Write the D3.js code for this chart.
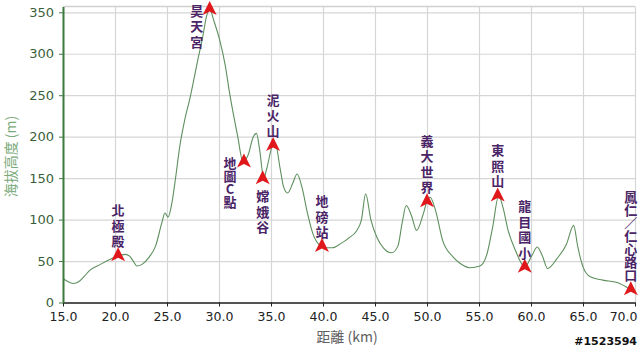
<!DOCTYPE html>
<html>
<head>
<meta charset="utf-8">
<script src="https://cdn.jsdelivr.net/npm/d3@7"></script>
<style>
  body { margin: 0; background: #fff; }
  svg { display: block; }
  .vlabel { writing-mode: vertical-rl; text-orientation: upright; }
</style>
</head>
<body>
<div id="chart"></div>
<script>
// Elevation profile (distance in km, elevation in m)
var distKm = [15.0, 15.5, 16.0, 16.5, 17.0, 17.6, 18.6, 19.5, 20.2, 21.0, 21.4, 21.8, 22.1, 22.6, 23.3, 23.9,
  24.5, 24.8, 25.1, 25.5, 25.8, 26.25, 26.7, 27.2, 27.6, 28.0, 28.4, 28.8, 29.1, 29.5, 30.1, 30.6, 31.0,
  31.4, 31.8, 32.3, 32.8, 33.3, 33.6, 33.9, 34.3, 34.6, 35.1, 35.4, 35.9, 36.2, 36.6, 37.1, 37.5, 38.0,
  38.5, 39.0, 39.7, 40.3, 40.9, 41.7, 42.5, 43.2, 43.7, 44.1, 44.6, 45.2, 45.8, 46.6, 47.2, 47.6, 48.0,
  48.5, 49.0, 49.6, 50.0, 50.3, 50.8, 51.5, 52.5, 53.2, 54.1, 55.1, 55.8, 56.3, 56.9, 57.3, 57.8, 58.5,
  59.4, 60.1, 60.6, 61.1, 61.6, 62.5, 63.4, 64.1, 64.5, 65.0, 65.7, 66.9, 68.3, 69.5];
var elevM = [29, 25, 23, 25, 31, 39, 46, 52, 56, 58, 56, 49, 44, 46, 55, 68,
  96, 108, 103, 122, 148, 190, 220, 246, 270, 295, 318, 345, 354, 340, 315, 286, 254,
  226, 200, 170, 178, 200, 204, 185, 150, 162, 188, 192, 160, 140, 132, 144, 155, 138,
  108, 84, 69, 66, 66, 71, 78, 86, 100, 131, 100, 78, 66, 60, 68, 95, 117,
  105, 87, 105, 122, 127, 112, 75, 55, 47, 42, 44, 60, 90, 129, 115, 87, 63,
  43, 57, 67, 56, 41, 53, 70, 93, 67, 43, 31, 27, 24, 16];

// Waypoints
var wpNames = ["北極殿", "昊天宮", "地圖C點", "嫦娥谷", "泥火山", "地磅站", "義大世界", "東照山", "龍目國小", "鳳仁／仁心路口"];
var wpKm = [20.3, 29.1, 32.4, 34.2, 35.2, 39.9, 50.0, 56.8, 59.4, 69.6];
var wpElev = [57, 354, 170, 150, 190, 68, 122, 129, 43, 16];

var xTicks = [15, 20, 25, 30, 35, 40, 45, 50, 55, 60, 65, 70];
var yTicks = [0, 50, 100, 150, 200, 250, 300, 350];

var svgWidth = 640;
var svgHeight = 347;
var margin = { top: 6.5, right: 5, bottom: 44.5, left: 63 };
var chartWidth = svgWidth - margin.left - margin.right;
var chartHeight = svgHeight - margin.top - margin.bottom;

var svg = d3.select("#chart")
  .append("svg")
  .attr("width", svgWidth)
  .attr("height", svgHeight);

var chartGroup = svg.append("g")
  .attr("transform", `translate(${margin.left}, ${margin.top})`);

var xScale = d3.scaleLinear().domain([15, 70]).range([0, chartWidth]);
var yScale = d3.scaleLinear().domain([0, 357]).range([chartHeight, 0]);

// grid
chartGroup.append("g")
  .attr("transform", `translate(0, ${chartHeight})`)
  .call(d3.axisBottom(xScale).tickValues(xTicks).tickSize(-chartHeight).tickFormat(""))
  .call(g => g.select(".domain").remove())
  .selectAll("line").attr("stroke", "#d6d6d6").attr("stroke-width", 1.2);

chartGroup.append("g")
  .call(d3.axisLeft(yScale).tickValues(yTicks).tickSize(-chartWidth).tickFormat(""))
  .call(g => g.select(".domain").remove())
  .selectAll("line").attr("stroke", "#d6d6d6").attr("stroke-width", 1.2);

chartGroup.append("line")
  .attr("x1", 0).attr("x2", chartWidth).attr("y1", 0).attr("y2", 0)
  .attr("stroke", "#d0d0d0").attr("stroke-width", 1.5);

// profile line
var profile = distKm.map((d, i) => [d, elevM[i]]);
var drawLine = d3.line()
  .x(d => xScale(d[0]))
  .y(d => yScale(d[1]))
  .curve(d3.curveMonotoneX);

chartGroup.append("path")
  .attr("d", drawLine(profile))
  .attr("fill", "none")
  .attr("stroke", "#5e8f5e")
  .attr("stroke-width", 1.1);

// axes
var bottomAxis = chartGroup.append("g")
  .attr("transform", `translate(0, ${chartHeight})`)
  .call(d3.axisBottom(xScale).tickValues(xTicks).tickSize(4).tickSizeOuter(0).tickFormat(d3.format(".1f")));
bottomAxis.select(".domain").attr("stroke", "#222").attr("stroke-width", 1.6);
bottomAxis.selectAll(".tick line").attr("stroke", "#222");
bottomAxis.selectAll("text")
  .attr("font-family", "DejaVu Sans, Verdana, sans-serif")
  .attr("font-size", "12.5px")
  .attr("fill", "#222")
  .attr("dy", "0.9em");
bottomAxis.selectAll(".tick").filter(d => d === 70).select("text")
  .attr("text-anchor", "end").attr("dx", "2");

var leftAxis = chartGroup.append("g")
  .call(d3.axisLeft(yScale).tickValues(yTicks).tickSize(4).tickSizeOuter(0));
leftAxis.select(".domain").attr("stroke", "#3d7a3d").attr("stroke-width", 2);
leftAxis.selectAll(".tick line").attr("stroke", "#3d7a3d");
leftAxis.selectAll("text")
  .attr("font-family", "DejaVu Sans, Verdana, sans-serif")
  .attr("font-size", "13px")
  .attr("fill", "#3b5f3b")
  .attr("x", -9);

// axis titles
chartGroup.append("text")
  .attr("x", chartWidth / 2 - 2)
  .attr("y", chartHeight + 39)
  .attr("text-anchor", "middle")
  .attr("font-family", "Noto Sans CJK TC, DejaVu Sans, sans-serif")
  .attr("font-size", "14px")
  .attr("fill", "#606060")
  .text("距離 (km)");

chartGroup.append("text")
  .attr("transform", `translate(${-margin.left + 16}, ${chartHeight / 2 + 2}) rotate(-90)`)
  .attr("text-anchor", "middle")
  .attr("font-family", "Noto Sans CJK TC, DejaVu Sans, sans-serif")
  .attr("font-size", "14px")
  .attr("fill", "#7aa97a")
  .text("海拔高度 (m)");

// waypoint markers
var markerPath = "M0,-8 L7,6 L0,2.5 L-7,6 Z";
chartGroup.selectAll(".wp")
  .data(wpNames)
  .enter()
  .append("path")
  .attr("class", "wp")
  .attr("d", markerPath)
  .attr("transform", (d, i) => `translate(${xScale(wpKm[i])}, ${yScale(wpElev[i])})`)
  .attr("fill", "#e0181c");

// vertical labels: default above marker, some placed differently
var placement = { "昊天宮": "left", "地圖C點": "belowLeft", "嫦娥谷": "below" };
var fontSize = 13;

wpNames.forEach(function(name, i) {
  var n = Array.from(name).length;
  var step = n > 5 ? 13 : (n === 4 && name.indexOf("C") >= 0 ? 13 : 15.5);
  var total = (n - 1) * step;
  var px = xScale(wpKm[i]);
  var py = yScale(wpElev[i]);
  var mode = placement[name] || "above";
  var x0 = px, y0;   // y0 = centre of first character
  if (mode === "above") { y0 = py - 14 - total; }
  else if (mode === "left") { x0 = px - 13; y0 = py + 2; }
  else if (mode === "belowLeft") { x0 = px - 14; y0 = py + 2; }
  else { y0 = py + 18; }

  chartGroup.append("text")
    .attr("class", "vlabel")
    .attr("x", x0)
    .attr("y", y0 - fontSize / 2)
    .attr("font-family", "Noto Sans CJK TC, sans-serif")
    .attr("font-size", fontSize + "px")
    .attr("font-weight", "bold")
    .attr("letter-spacing", (step - fontSize) + "px")
    .attr("fill", "#4a2466")
    .text(name);
});

// watermark
svg.append("text")
  .attr("x", 637)
  .attr("y", 345)
  .attr("text-anchor", "end")
  .attr("font-family", "DejaVu Sans, sans-serif")
  .attr("font-size", "11px")
  .attr("font-weight", "bold")
  .attr("fill", "#111")
  .text("#1523594");
</script>
</body>
</html>
